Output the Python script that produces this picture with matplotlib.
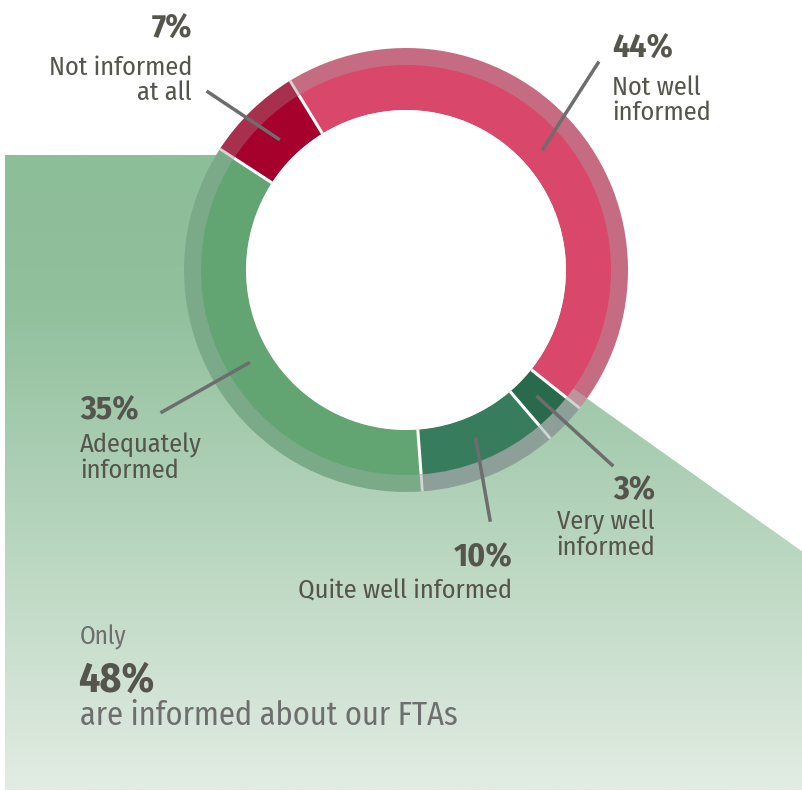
import numpy as np
import matplotlib.pyplot as plt
from matplotlib import font_manager
from matplotlib.patches import Polygon
from matplotlib.colors import LinearSegmentedColormap

# Antwoordcategorieen (tegen de klok in vanaf de rechteronderkant)
categories = ["Not well informed", "Not informed at all", "Adequately informed",
              "Quite well informed", "Very well informed"]
values = [44, 7, 35, 10, 3]
ring_colors = ["#d9476a", "#a6002c", "#62a573", "#387c5e", "#2a6a4c"]
shadow_on_white = ["#c66c82", "#a8304f", "#7aaa88", "#8c9f98", "#8c9f98"]
shadow_on_green = ["#c0929b", "#a8445f", "#7aaa88", "#8c9f98", "#8c9f98"]

pct_labels = ["44%", "7%", "35%", "10%", "3%"]
text_labels = [["Not well", "informed"], ["Not informed", "at all"],
               ["Adequately", "informed"], ["Quite well informed"],
               ["Very well", "informed"]]

headline_pre = "Only"
headline_pct = "48%"
headline_post = "are informed about our FTAs"

# Geometrie in pixels (y naar beneden)
W, H = 803, 791
CX, CY = 406, 270
R_OUT, R_IN = 205, 160
R_SHADOW = 222
START = -38.5

# Smal lettertype zoeken, anders DejaVu
available = {f.name for f in font_manager.fontManager.ttflist}
candidates = ["Fira Sans Condensed", "PT Sans Narrow", "Roboto Condensed",
              "Encode Sans Condensed", "Liberation Sans Narrow", "DejaVu Sans"]
FONT = [c for c in candidates if c in available][0]
DARK = "#55554d"
GREY = "#6e6e6e"

fig = plt.figure(figsize=(W / 100, H / 100), dpi=100)
ax = fig.add_axes([0, 0, 1, 1])

# Groene achtergrondvlak met verloop
bg_poly = Polygon([(5, 155), (220, 155), (CX, CY), (803, 552), (803, 790), (5, 790)],
                  closed=True, facecolor="none", edgecolor="none")
ax.add_patch(bg_poly)
grad_cmap = LinearSegmentedColormap.from_list(
    "bg", [(0.0, "#8cbe98"), (0.23, "#90c09c"), (1.0, "#e2ece3")])
grad = np.linspace(0, 1, 300).reshape(-1, 1)
img = ax.imshow(grad, cmap=grad_cmap, extent=(5, 803, 790, 155), aspect="auto",
                interpolation="bilinear", zorder=1)
img.set_clip_path(bg_poly)

# Schaduwring: boven wit en boven het groene vlak
common = dict(center=(CX, CY), radius=R_SHADOW, startangle=-START, counterclock=False,
              frame=True)
w_white, _ = ax.pie(values, colors=shadow_on_white,
                    wedgeprops=dict(width=R_SHADOW - R_IN, linewidth=0), **common)
for w in w_white:
    w.set_zorder(0.5)
w_green, _ = ax.pie(values, colors=shadow_on_green,
                    wedgeprops=dict(width=R_SHADOW - R_IN, linewidth=0), **common)
for w in w_green:
    w.set_zorder(2)
    w.set_clip_on(True)
    w.set_clip_path(bg_poly)

# Hoofdring
wedges, _ = ax.pie(values, colors=ring_colors, center=(CX, CY), radius=R_OUT,
                   startangle=-START, counterclock=False, frame=True,
                   wedgeprops=dict(width=R_OUT - R_IN, linewidth=0))
for w in wedges:
    w.set_zorder(3)

# Witte middencirkel (maskeert het groene vlak)
hole = plt.Circle((CX, CY), R_IN, facecolor="white", edgecolor="none", zorder=3.5)
ax.add_patch(hole)

# Scheidingslijnen tussen de segmenten
total = sum(values)
bounds = START + 360 * np.cumsum([0] + values[:-1]) / total
for a in np.radians(bounds):
    ca, sa = np.cos(a), np.sin(a)
    ax.plot([CX + R_IN * ca, CX + R_OUT * ca], [CY - R_IN * sa, CY - R_OUT * sa],
            color="white", lw=2.2, zorder=4, solid_capstyle="butt")
    ax.plot([CX + R_OUT * ca, CX + R_SHADOW * ca], [CY - R_OUT * sa, CY - R_SHADOW * sa],
            color="#d2d6d2", lw=2.0, zorder=4, solid_capstyle="butt")

# Verbindingslijnen naar de labels
mids = START + 360 * (np.cumsum(values) - np.array(values) / 2) / total
leader_ends = [(598, 63), (208, 92), (162, 412), (490, 520), (612, 465)]
for m, (ex, ey) in zip(np.radians(mids), leader_ends):
    sx, sy = CX + 183 * np.cos(m), CY - 183 * np.sin(m)
    ax.plot([sx, ex], [sy, ey], color="#6d6d6d", lw=2.5, zorder=5)

# Labels: (x, y van percentage, y van eerste tekstregel, uitlijning)
label_pos = [(612, 58, 95, "left"), (192, 38, 75, "right"), (80, 420, 453, "left"),
             (512, 567, 598, "right"), (655, 500, 530, "right")]
for pct, lines, (x, yp, yt, ha) in zip(pct_labels, text_labels, label_pos):
    ax.text(x, yp, pct, ha=ha, va="baseline", fontsize=24, fontweight="bold",
            color=DARK, family=FONT, zorder=6)
    for i, line in enumerate(lines):
        ax.text(x, yt + 25 * i, line, ha=ha, va="baseline", fontsize=19, color=DARK,
                family=FONT, zorder=6)

ax.text(80, 645, headline_pre, ha="left", va="baseline", fontsize=18, color=GREY,
        family=FONT, zorder=6)
ax.text(78, 692, headline_pct, ha="left", va="baseline", fontsize=30, fontweight="bold",
        color=DARK, family=FONT, zorder=6)
ax.text(80, 725, headline_post, ha="left", va="baseline", fontsize=23.3, color=GREY,
        family=FONT, zorder=6)

ax.set_xlim(0, W)
ax.set_ylim(H, 0)
ax.set_aspect("auto")
ax.axis("off")

fig.savefig("out.png", dpi=100, facecolor="white")
